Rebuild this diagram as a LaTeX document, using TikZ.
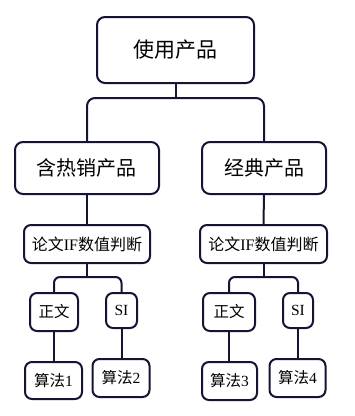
\documentclass[tikz,border=0pt]{standalone}
\usepackage{fontspec}
\setmainfont{Liberation Serif}
\newfontfamily\cjk{Noto Sans CJK SC}
\definecolor{TreeNavy}{RGB}{20, 20, 52}
\usetikzlibrary{positioning, calc}

\begin{document}
\begin{tikzpicture}[
      x=1pt, y=-1pt,
      box/.style={draw=TreeNavy, line width=2pt, fill=white,
        rounded corners=8pt, inner sep=0pt, align=center, text=black},
      bigbox/.style={box, font=\cjk\fontsize{21}{24}\selectfont},
      midbox/.style={box, font=\cjk\fontsize{20}{23}\selectfont},
      smallbox/.style={box, rounded corners=7pt, font=\fontsize{16}{19}\selectfont},
      tinybox/.style={box, rounded corners=7pt, font=\fontsize{15.5}{18}\selectfont},
      link/.style={draw=TreeNavy, line width=2pt, rounded corners=8pt}
    ]
    \useasboundingbox (0,0) rectangle (355,416);
    % top
    \node[bigbox, minimum width=157pt, minimum height=66pt] (use) at (175.5,50) {使用产品};
    \node[midbox, minimum width=144pt, minimum height=52pt] (hot) at (87,168) {含热销产品};
    \node[midbox, minimum width=124pt, minimum height=52pt] (classic) at (264,168) {经典产品};
    % IF judgement
    \node[smallbox, minimum width=126pt, minimum height=38pt] (ifHot) at (87,244)
         {{\cjk 论文}IF{\cjk 数值判断}};
    \node[smallbox, minimum width=127pt, minimum height=38pt] (ifClassic) at (263.5,244)
         {{\cjk 论文}IF{\cjk 数值判断}};
    % leaves
    \node[tinybox, minimum width=48pt, minimum height=38pt] (mainHot) at (54,312) {\cjk 正文};
    \node[tinybox, minimum width=31pt, minimum height=35pt] (siHot) at (121.5,310.5) {SI};
    \node[tinybox, minimum width=57pt, minimum height=37pt] (algA) at (53.5,380.5) {{\cjk 算法}1};
    \node[tinybox, minimum width=57pt, minimum height=38pt] (algB) at (121,378) {{\cjk 算法}2};
    \node[tinybox, minimum width=52pt, minimum height=38pt] (mainClassic) at (229,312) {\cjk 正文};
    \node[tinybox, minimum width=30pt, minimum height=35pt] (siClassic) at (298,310.5) {SI};
    \node[tinybox, minimum width=55pt, minimum height=38pt] (algC) at (229.5,381) {{\cjk 算法}3};
    \node[tinybox, minimum width=56pt, minimum height=38pt] (algD) at (297.5,378) {{\cjk 算法}4};

    \coordinate (splitTop) at (175.5,98);
    \coordinate (splitHot) at (87,277);
    \coordinate (splitClassic) at (263.5,277);

    \draw[link] (use.south) -- (splitTop);
    \draw[link] (hot.north) |- (splitTop) -| (classic.north);
    \draw[link] (hot.south) -- (ifHot.north);
    \draw[link] (classic.south) -- (ifClassic.north);
    \draw[link] (ifHot.south) -- (splitHot);
    \draw[link, rounded corners=6pt] (mainHot.north) |- (splitHot) -| (siHot.north);
    \draw[link] (ifClassic.south) -- (splitClassic);
    \draw[link, rounded corners=6pt] (mainClassic.north) |- (splitClassic) -| (siClassic.north);
    \draw[link] (mainHot.south) -- (mainHot.south |- algA.north);
    \draw[link] (siHot.south) -- (siHot.south |- algB.north);
    \draw[link] (mainClassic.south) -- (mainClassic.south |- algC.north);
    \draw[link] (siClassic.south) -- (siClassic.south |- algD.north);
  \end{tikzpicture}
\end{document}
